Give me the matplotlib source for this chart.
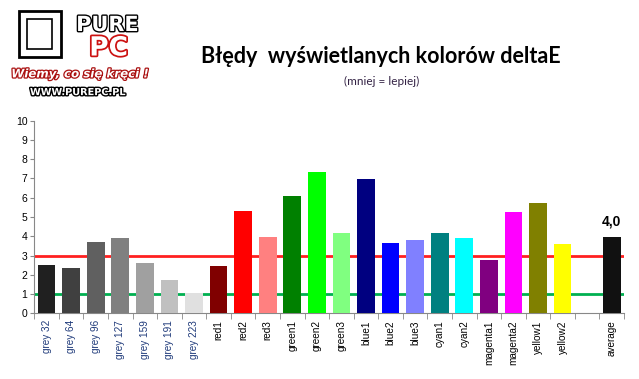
import matplotlib.pyplot as plt
import matplotlib.patheffects as pe
from matplotlib.patches import Rectangle

# data
labels = ['grey 32', 'grey 64', 'grey 96', 'grey 127', 'grey 159', 'grey 191', 'grey 223',
          'red1', 'red2', 'red3', 'green1', 'green2', 'green3', 'blue1', 'blue2', 'blue3',
          'cyan1', 'cyan2', 'magenta1', 'magenta2', 'yellow1', 'yellow2']
values = [2.51, 2.35, 3.70, 3.91, 2.61, 1.73, 1.07,
          2.46, 5.31, 3.96, 6.09, 7.34, 4.17, 6.97, 3.65, 3.81,
          4.17, 3.91, 2.77, 5.26, 5.73, 3.60]
colors = ['#202020', '#404040', '#606060', '#808080', '#a0a0a0', '#c0c0c0', '#e0e0e0',
          '#800000', '#ff0000', '#ff8080', '#008000', '#00ff00', '#80ff80', '#000080', '#0000ff', '#8080ff',
          '#008080', '#00ffff', '#800080', '#ff00ff', '#808000', '#ffff00']
avg_label = 'average'
avg_value = 3.96
avg_color = '#111111'
red_limit = 3
green_limit = 1

fig = plt.figure(figsize=(6.39, 3.79), dpi=100)
ax = fig.add_axes([0.0537, 0.1734, 0.9228, 0.5081])

n = len(values)
xs = list(range(n))
ax.bar(xs, values, width=0.72, color=colors, zorder=3)
avg_x = n + 1
ax.bar([avg_x], [avg_value], width=0.72, color=avg_color, zorder=3)
ax.text(avg_x, avg_value + 0.45, f'{avg_value:.1f}'.replace('.', ','), ha='center', va='bottom',
        fontsize=10, fontweight='bold', family='Liberation Sans')

ax.axhline(red_limit, color='#ff2020', lw=2, zorder=2)
ax.axhline(green_limit, color='#00b050', lw=2, zorder=2)

ax.set_xlim(-0.5, n + 1.5)
ax.set_ylim(0, 10)
ax.set_yticks(range(0, 11))
ax.tick_params(axis='y', labelsize=7.5, length=3, color='#888888', pad=2)
for t in ax.get_yticklabels():
    t.set_family('Liberation Sans')

all_labels = labels + ['', avg_label]
ax.set_xticks(range(n + 2))
ax.set_xticklabels(all_labels, rotation=90, fontsize=7.2, family='Liberation Sans', va='top')
ax.tick_params(axis='x', which='major', length=0, pad=5)
ax.set_xticks([i - 0.5 for i in range(n + 3)], minor=True)
ax.tick_params(axis='x', which='minor', length=4, color='#888888')
for t in ax.get_xticklabels():
    if t.get_text().startswith('grey'):
        t.set_color('#1f3a7a')

for s in ['top', 'right']:
    ax.spines[s].set_visible(False)
for s in ['left', 'bottom']:
    ax.spines[s].set_color('#888888')

fig.text(0.596, 0.85, 'Błędy  wyświetlanych kolorów deltaE', ha='center', va='center',
         fontsize=15.5, fontweight='bold', family='Lato')
fig.text(0.597, 0.785, '(mniej = lepiej)', ha='center', va='center', fontsize=8.5, color='#332244',
         family='Lato')

# rough logo
outline = [pe.withStroke(linewidth=2, foreground='black')]
fig.patches.append(Rectangle((0.03, 0.85), 0.065, 0.12, transform=fig.transFigure,
                             facecolor='white', edgecolor='black', lw=2))
fig.patches.append(Rectangle((0.042, 0.87), 0.04, 0.08, transform=fig.transFigure,
                             facecolor='white', edgecolor='black', lw=1.2))
fig.text(0.168, 0.934, 'PURE', ha='center', va='center', fontsize=15, color='white',
         fontweight='bold', family='DejaVu Sans', path_effects=outline)
fig.text(0.17, 0.872, 'PC', ha='center', va='center', fontsize=19, color='white',
         fontweight='bold', family='DejaVu Sans',
         path_effects=[pe.withStroke(linewidth=2.5, foreground='#cc1111')])
fig.text(0.125, 0.805, 'Wiemy, co się kręci !', ha='center', va='center', fontsize=8.5,
         color='white', fontweight='bold', style='italic', family='DejaVu Sans',
         path_effects=[pe.withStroke(linewidth=1.8, foreground='#aa1111')])
fig.text(0.122, 0.757, 'WWW.PUREPC.PL', ha='center', va='center', fontsize=7, color='white',
         fontweight='bold', family='DejaVu Sans', path_effects=outline)

fig.savefig('out.png', dpi=100)
